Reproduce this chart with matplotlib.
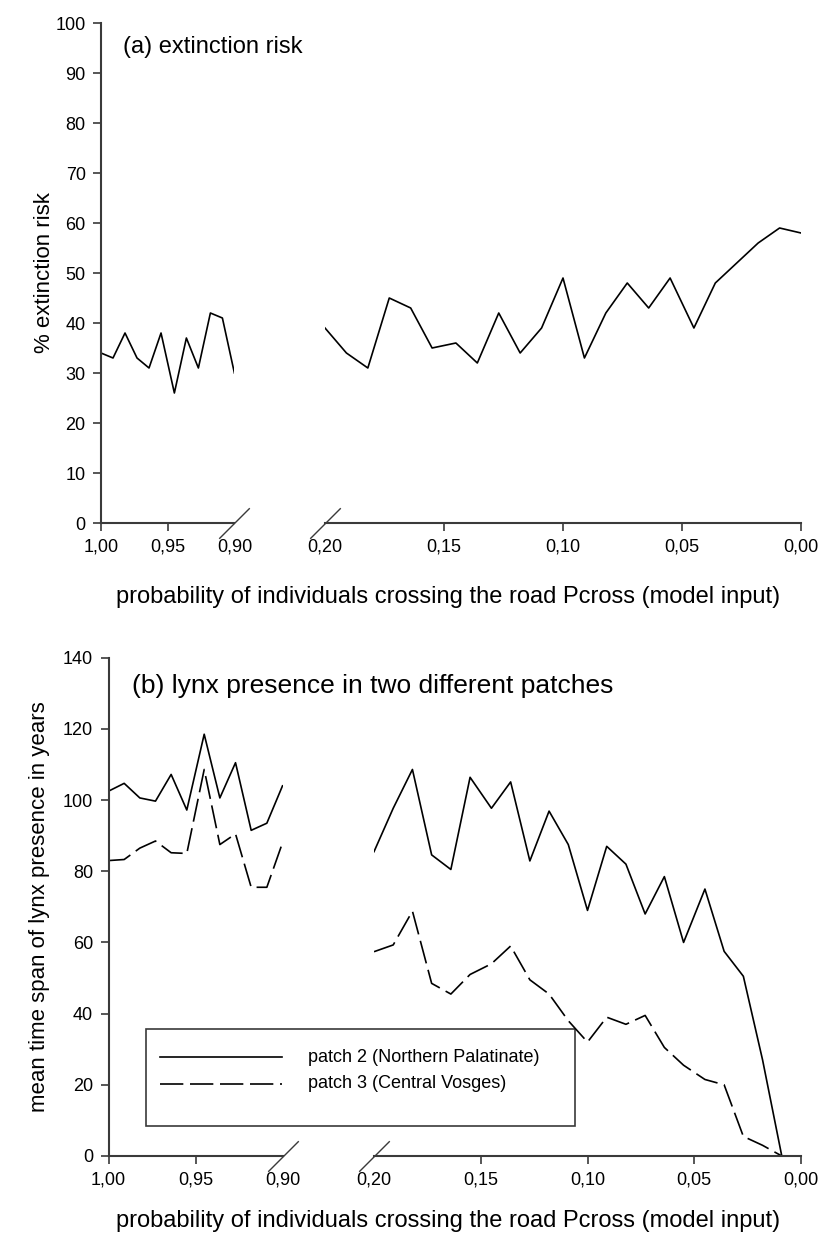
import matplotlib
matplotlib.use("Agg")
import matplotlib.pyplot as plt
from matplotlib.patches import Rectangle
from matplotlib.ticker import FuncFormatter

plt.rcParams['font.family'] = ['Liberation Sans', 'DejaVu Sans']

# x positions (Pcross) of the simulated points
p_left = [1.000, 0.991, 0.982, 0.973, 0.964, 0.955, 0.945, 0.936, 0.927, 0.918, 0.909, 0.900]
p_right = [0.200, 0.191, 0.182, 0.173, 0.164, 0.155, 0.145, 0.136, 0.127, 0.118, 0.109, 0.100,
           0.091, 0.082, 0.073, 0.064, 0.055, 0.045, 0.036, 0.027, 0.018, 0.009, 0.000]

# (a) extinction risk in %
risk_left = [34, 33, 38, 33, 31, 38, 26, 37, 31, 42, 41, 30]
risk_right = [39, 34, 31, 45, 43, 35, 36, 32, 42, 34, 39, 49, 33, 42, 48, 43, 49, 39, 48, 52, 56, 59, 58]

# (b) mean time span of lynx presence (years)
patch2_left = [102.5, 104.7, 100.6, 99.7, 107.2, 97.2, 118.5, 100.6, 110.5, 91.5, 93.5, 104]
patch2_right = [85.5, 97.7, 108.6, 84.6, 80.5, 106.4, 97.7, 105.1, 82.9, 96.9, 87.5, 69,
                87, 82, 68, 78.5, 60, 75, 57.5, 50.5, 27, 0, 0]
patch3_left = [83, 83.3, 86.5, 88.5, 85.2, 85, 108.6, 87.5, 90.5, 75.5, 75.5, 88]
patch3_right = [57.4, 59.3, 68.8, 48.5, 45.5, 51, 54, 59, 49.5, 45.5, 38, 32,
                39, 37, 39.5, 30.5, 25.5, 21.5, 20, 5.5, 3, 0, 0]

xticks_left = [1.00, 0.95, 0.90]
xticks_right = [0.20, 0.15, 0.10, 0.05, 0.00]
labels = ['patch 2 (Northern Palatinate)', 'patch 3 (Central Vosges)']
xlab = 'probability of individuals crossing the road Pcross (model input)'

W, H = 821, 1243
fig = plt.figure(figsize=(W / 100, H / 100), dpi=100)
SPC = '#3a3a3a'
TFS = 13
XFS = 17
YFS = 16
DASH = (14, 4)


def box(x0, x1, ytop, ybot):
    return [x0 / W, 1 - ybot / H, (x1 - x0) / W, (ybot - ytop) / H]


comma = FuncFormatter(lambda v, pos: f"{v:.2f}".replace('.', ','))


def style(ax, xlim, ticks, first):
    ax.set_xlim(*xlim)
    ax.set_xticks(ticks)
    ax.xaxis.set_major_formatter(comma)
    for s in ['top', 'right']:
        ax.spines[s].set_visible(False)
    for s in ['bottom', 'left']:
        ax.spines[s].set_color(SPC)
        ax.spines[s].set_linewidth(1.5)
    ax.tick_params(direction='out', length=6, width=1.2, color=SPC, labelsize=TFS, pad=5)
    ax.patch.set_alpha(0)
    if not first:
        ax.spines['left'].set_visible(False)
        ax.tick_params(axis='y', left=False, labelleft=False)
    # break mark
    xb = 1 if first else 0
    ax.plot([xb], [0], transform=ax.transAxes, marker=[(-1, -1), (1, 1)], markersize=22,
            mew=1, color=SPC, clip_on=False)
    if first:
        ax.xaxis.get_major_ticks()[-1].tick1line.set_visible(False)
    else:
        ax.xaxis.get_major_ticks()[0].tick1line.set_visible(False)


# ---- panel (a)
ax_al = fig.add_axes(box(101, 234.4, 23, 523))
ax_ar = fig.add_axes(box(325, 801, 23, 523))
for ax in (ax_al, ax_ar):
    ax.set_ylim(0, 100)
ax_al.plot(p_left, risk_left, color='black', lw=1.2)
ax_ar.plot(p_right, risk_right, color='black', lw=1.2)
style(ax_al, (1.0, 0.9), xticks_left, True)
style(ax_ar, (0.2, 0.0), xticks_right, False)
ax_al.set_yticks(range(0, 101, 10))
fig.text(44 / W, 1 - 273 / H, '% extinction risk', fontsize=YFS, rotation=90,
         va='center', ha='center')
fig.text(123 / W, 1 - 47 / H, '(a) extinction risk', fontsize=17, va='center', ha='left')
fig.text(116 / W, 1 - 597 / H, xlab, fontsize=XFS, va='center', ha='left')

# ---- panel (b)
ax_bl = fig.add_axes(box(108.5, 282.5, 657.7, 1156))
ax_br = fig.add_axes(box(374, 801, 657.7, 1156))
for ax in (ax_bl, ax_br):
    ax.set_ylim(0, 140)
ax_bl.plot(p_left, patch2_left, color='black', lw=1.2)
ax_bl.plot(p_left, patch3_left, color='black', lw=1.2, dashes=DASH)
ax_br.plot(p_right, patch2_right, color='black', lw=1.2)
ax_br.plot(p_right, patch3_right, color='black', lw=1.2, dashes=DASH)
style(ax_bl, (1.0, 0.9), xticks_left, True)
style(ax_br, (0.2, 0.0), xticks_right, False)
ax_bl.set_yticks(range(0, 141, 20))
fig.text(40 / W, 1 - 907 / H, 'mean time span of lynx presence in years', fontsize=YFS,
         rotation=90, va='center', ha='center')
fig.text(131.7 / W, 1 - 686 / H, '(b) lynx presence in two different patches',
         fontsize=19, va='center', ha='left')
fig.text(116 / W, 1 - 1221 / H, xlab, fontsize=XFS, va='center', ha='left')

# ---- legend box drawn on an overlay in pixel units
lay = fig.add_axes([0, 0, 1, 1], zorder=-1)
lay.set_xlim(0, W)
lay.set_ylim(H, 0)
lay.axis('off')
lay.add_patch(Rectangle((146, 1029), 575 - 146, 1126 - 1029, fill=False, ec=SPC, lw=1.2))
lay.plot([160, 282], [1057, 1057], color='black', lw=1.2)
lay.plot([160, 282], [1084, 1084], color='black', lw=1.2, dashes=DASH)
lay.text(308, 1057, labels[0], fontsize=TFS, va='center', ha='left')
lay.text(308, 1084, labels[1], fontsize=TFS, va='center', ha='left')

fig.savefig('out.png', dpi=100)
